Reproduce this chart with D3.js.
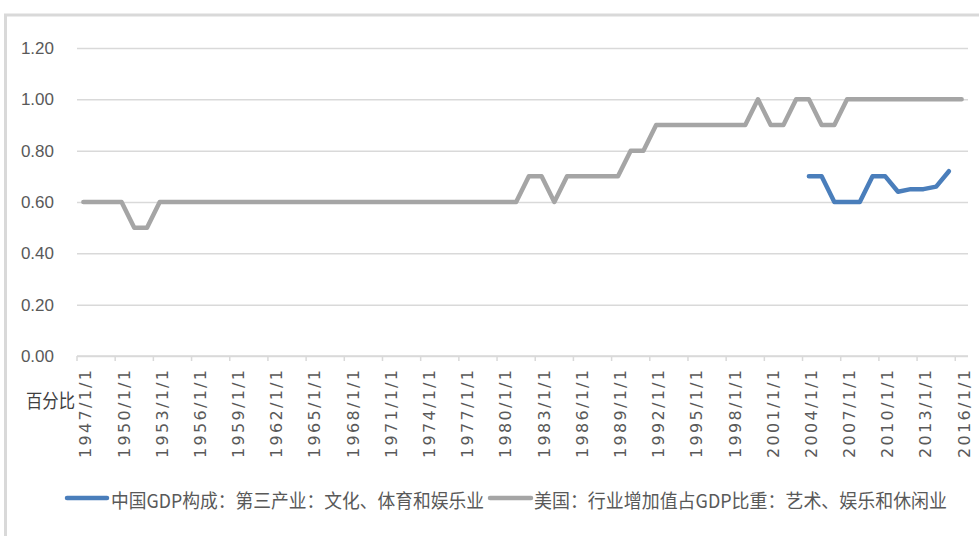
<!DOCTYPE html>
<html>
<head>
<meta charset="utf-8">
<script src="https://cdn.jsdelivr.net/npm/d3@7"></script>
<style>
  html, body { margin: 0; padding: 0; background: #fff; }
  svg { display: block; }
</style>
</head>
<body>
<svg id="chart" width="979" height="536"></svg>
<script>
// Categories: one per year, labelled as dates
const years = [
  1947, 1948, 1949, 1950, 1951, 1952, 1953, 1954, 1955, 1956,
  1957, 1958, 1959, 1960, 1961, 1962, 1963, 1964, 1965, 1966,
  1967, 1968, 1969, 1970, 1971, 1972, 1973, 1974, 1975, 1976,
  1977, 1978, 1979, 1980, 1981, 1982, 1983, 1984, 1985, 1986,
  1987, 1988, 1989, 1990, 1991, 1992, 1993, 1994, 1995, 1996,
  1997, 1998, 1999, 2000, 2001, 2002, 2003, 2004, 2005, 2006,
  2007, 2008, 2009, 2010, 2011, 2012, 2013, 2014, 2015, 2016
];

// 美国：行业增加值占GDP比重：艺术、娱乐和休闲业 (%)
const usShare = [
  0.6, 0.6, 0.6, 0.6, 0.5, 0.5, 0.6, 0.6, 0.6, 0.6,
  0.6, 0.6, 0.6, 0.6, 0.6, 0.6, 0.6, 0.6, 0.6, 0.6,
  0.6, 0.6, 0.6, 0.6, 0.6, 0.6, 0.6, 0.6, 0.6, 0.6,
  0.6, 0.6, 0.6, 0.6, 0.6, 0.7, 0.7, 0.6, 0.7, 0.7,
  0.7, 0.7, 0.7, 0.8, 0.8, 0.9, 0.9, 0.9, 0.9, 0.9,
  0.9, 0.9, 0.9, 1.0, 0.9, 0.9, 1.0, 1.0, 0.9, 0.9,
  1.0, 1.0, 1.0, 1.0, 1.0, 1.0, 1.0, 1.0, 1.0, 1.0
];

// 中国GDP构成：第三产业：文化、体育和娱乐业 (%), 2004–2015
const cnShare = [
  null, null, null, null, null, null, null, null, null, null,
  null, null, null, null, null, null, null, null, null, null,
  null, null, null, null, null, null, null, null, null, null,
  null, null, null, null, null, null, null, null, null, null,
  null, null, null, null, null, null, null, null, null, null,
  null, null, null, null, null, null, null, 0.7, 0.7, 0.6,
  0.6, 0.6, 0.7, 0.7, 0.64, 0.65, 0.65, 0.66, 0.72, null
];

const yTicks = [0, 0.2, 0.4, 0.6, 0.8, 1.0, 1.2];
const yAxisTitle = "百分比";
const seriesNames = [
  "中国GDP构成：第三产业：文化、体育和娱乐业",
  "美国：行业增加值占GDP比重：艺术、娱乐和休闲业"
];
const seriesColors = ["#4A7EBB", "#A5A5A5"];

const svg = d3.select("#chart");
const W = 979, H = 536;
const plot = { left: 77, right: 968, top: 48, bottom: 356 };

svg.append("rect").attr("width", W).attr("height", H).attr("fill", "#fff");

// chart area frame
svg.append("rect")
  .attr("x", 5.5).attr("y", 15)
  .attr("width", 1100).attr("height", 700)
  .attr("fill", "none")
  .attr("stroke", "#d9d9d9")
  .attr("stroke-width", 3);

const x = d3.scaleBand()
  .domain(years)
  .range([plot.left, plot.right])
  .paddingInner(0).paddingOuter(0);
const bw = x.bandwidth();
const cx = d => x(d) + bw / 2;

const y = d3.scaleLinear().domain([0, 1.2]).range([plot.bottom, plot.top]);

// value axis with horizontal gridlines
const yAxis = svg.append("g")
  .attr("transform", `translate(${plot.left},0)`)
  .call(d3.axisLeft(y)
    .tickValues(yTicks)
    .tickSize(-(plot.right - plot.left))
    .tickPadding(23)
    .tickFormat(d3.format(".2f")));
yAxis.select(".domain").remove();
yAxis.selectAll(".tick line")
  .attr("stroke", "#d9d9d9")
  .attr("stroke-width", 1.5);
yAxis.selectAll(".tick text")
  .attr("fill", "#595959")
  .attr("font-family", "Liberation Sans, Arial, sans-serif")
  .attr("font-size", 17);

// category axis: ticks sit on band boundaries, every third year
const labelYears = years.filter((d, i) => i % 3 === 0);
const xAxis = svg.append("g")
  .attr("transform", `translate(0,${plot.bottom})`)
  .call(d3.axisBottom(x)
    .tickValues(labelYears)
    .tickSizeOuter(0)
    .tickSizeInner(5)
    .tickFormat(d => `${d}/1/1`));
xAxis.select(".domain")
  .attr("stroke", "#d9d9d9")
  .attr("stroke-width", 1.5)
  .attr("d", `M${plot.left},0H${plot.right}`);
xAxis.selectAll(".tick line")
  .attr("stroke", "#d9d9d9")
  .attr("stroke-width", 1.5)
  .attr("transform", `translate(${-bw / 2},0)`);
xAxis.selectAll(".tick text")
  .attr("fill", "#595959")
  .attr("font-family", "DejaVu Sans, sans-serif")
  .attr("font-size", 16)
  .attr("text-anchor", "end")
  .attr("dominant-baseline", "central")
  .attr("textLength", 88)
  .attr("lengthAdjust", "spacing")
  .attr("y", 0).attr("dy", 0)
  .attr("transform", "translate(2.5,14) rotate(-90)");

// series lines
const seriesData = [cnShare, usShare];
const line = d3.line()
  .defined(d => d.v !== null)
  .x(d => cx(d.year))
  .y(d => y(d.v));

seriesData.slice().reverse().forEach((vals, ri) => {
  const k = seriesData.length - 1 - ri;
  svg.append("path")
    .datum(years.map((yr, i) => ({ year: yr, v: vals[i] })))
    .attr("fill", "none")
    .attr("stroke", seriesColors[k])
    .attr("stroke-width", 4.5)
    .attr("stroke-linejoin", "round")
    .attr("stroke-linecap", "round")
    .attr("d", line);
});

// axis title
svg.append("text")
  .attr("x", 26).attr("y", 399)
  .attr("dominant-baseline", "central")
  .attr("font-family", "Noto Sans CJK SC, sans-serif")
  .attr("font-size", 19)
  .attr("fill", "#404040")
  .attr("textLength", 49)
  .attr("lengthAdjust", "spacingAndGlyphs")
  .text(yAxisTitle);

// legend
const legendItems = [
  { x1: 67, x2: 107, tx: 111, tw: 373 },
  { x1: 490, x2: 531, tx: 534, tw: 413 }
];
const legendY = 498;
legendItems.forEach((it, i) => {
  svg.append("line")
    .attr("x1", it.x1).attr("x2", it.x2)
    .attr("y1", legendY).attr("y2", legendY)
    .attr("stroke", seriesColors[i])
    .attr("stroke-width", 4.5)
    .attr("stroke-linecap", "round");
  svg.append("text")
    .attr("x", it.tx).attr("y", legendY + 1)
    .attr("dominant-baseline", "central")
    .attr("font-family", "Noto Sans CJK SC, sans-serif")
    .attr("font-size", 19)
    .attr("fill", "#595959")
    .attr("textLength", it.tw)
    .attr("lengthAdjust", "spacingAndGlyphs")
    .text(seriesNames[i]);
});
</script>
</body>
</html>
